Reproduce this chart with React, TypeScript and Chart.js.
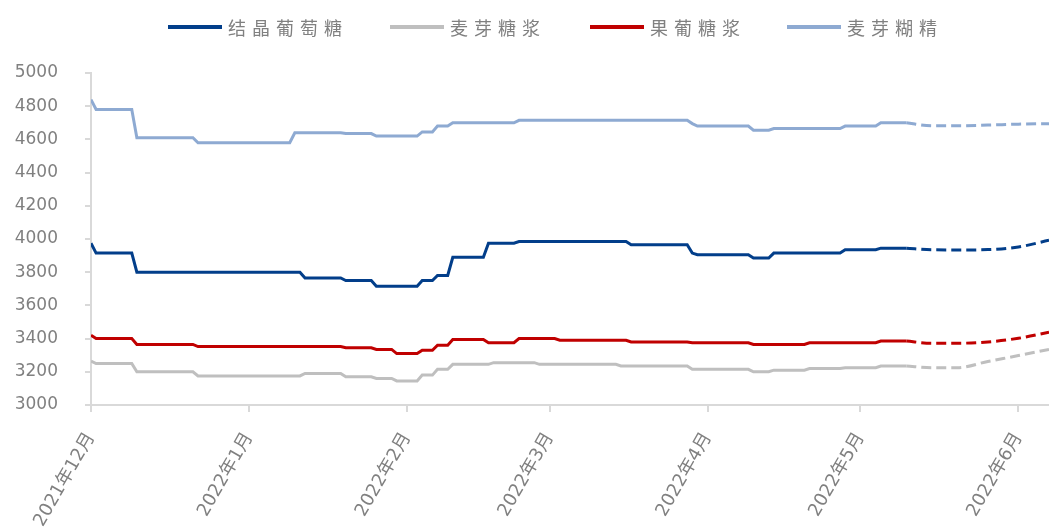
import React, { useEffect, useRef } from "react";
import { Chart, registerables } from "chart.js";

Chart.register(...registerables);

// ---------- data ----------
const ORIGIN_DATE = "2021-12-01";
const AXIS_END_DATE = "2022-06-07";

const monthTickDates = ["2021-12-01", "2022-01-01", "2022-02-01", "2022-03-01", "2022-04-01", "2022-05-01", "2022-06-01"];
const monthTickLabels = ["2021年12月", "2022年1月", "2022年2月", "2022年3月", "2022年4月", "2022年5月", "2022年6月"];

const seriesNames = ["结晶葡萄糖", "麦芽糖浆", "果葡糖浆", "麦芽糊精"];
const seriesColors = ["#023e8a", "#bfbfbf", "#c00000", "#8eaad2"];

// price change dates (value holds from that date until the next change)
const glucoseDates = ["2021-12-01", "2021-12-02", "2021-12-10", "2022-01-12", "2022-01-20", "2022-01-26", "2022-02-04", "2022-02-07", "2022-02-10", "2022-02-17", "2022-02-23", "2022-03-17", "2022-03-29", "2022-03-30", "2022-04-10", "2022-04-14", "2022-04-28", "2022-05-05", "2022-05-10"];
const glucoseValues = [3975, 3915, 3800, 3765, 3750, 3715, 3750, 3780, 3890, 3975, 3985, 3965, 3915, 3905, 3885, 3915, 3935, 3945, 3945];

const maltSyrupDates = ["2021-12-01", "2021-12-02", "2021-12-10", "2021-12-22", "2022-01-12", "2022-01-20", "2022-01-26", "2022-01-30", "2022-02-04", "2022-02-07", "2022-02-10", "2022-02-18", "2022-02-27", "2022-03-15", "2022-03-29", "2022-04-10", "2022-04-14", "2022-04-21", "2022-04-28", "2022-05-05", "2022-05-10"];
const maltSyrupValues = [3265, 3250, 3200, 3175, 3190, 3170, 3160, 3145, 3180, 3215, 3245, 3255, 3245, 3235, 3215, 3200, 3210, 3220, 3225, 3235, 3235];

const hfcsDates = ["2021-12-01", "2021-12-02", "2021-12-10", "2021-12-22", "2022-01-20", "2022-01-26", "2022-01-30", "2022-02-04", "2022-02-07", "2022-02-10", "2022-02-17", "2022-02-23", "2022-03-03", "2022-03-17", "2022-03-29", "2022-04-10", "2022-04-21", "2022-05-05", "2022-05-10"];
const hfcsValues = [3420, 3400, 3365, 3352, 3345, 3335, 3310, 3330, 3360, 3395, 3375, 3400, 3390, 3380, 3375, 3365, 3375, 3385, 3385];

const maltodextrinDates = ["2021-12-01", "2021-12-02", "2021-12-10", "2021-12-22", "2022-01-10", "2022-01-20", "2022-01-26", "2022-02-04", "2022-02-07", "2022-02-10", "2022-02-23", "2022-03-29", "2022-03-30", "2022-04-10", "2022-04-14", "2022-04-28", "2022-05-05", "2022-05-10"];
const maltodextrinValues = [4840, 4780, 4610, 4580, 4640, 4635, 4620, 4645, 4680, 4700, 4715, 4695, 4680, 4655, 4665, 4680, 4700, 4700];

// forecast (dashed)
const forecastDates = ["2022-05-10", "2022-05-15", "2022-05-20", "2022-05-26", "2022-06-01", "2022-06-07"];
const glucoseForecast = [3945, 3935, 3934, 3936, 3952, 3992];
const maltSyrupForecast = [3235, 3225, 3225, 3262, 3298, 3335];
const hfcsForecast = [3385, 3372, 3372, 3380, 3402, 3438];
const maltodextrinForecast = [4700, 4682, 4682, 4686, 4692, 4695];

const Y_MIN = 3000;
const Y_MAX = 5000;
const Y_STEP = 200;

// ---------- helpers ----------
const dayIndex = (d: string) => Math.round((Date.parse(d) - Date.parse(ORIGIN_DATE)) / 86400000);

function stepPoints(dates: string[], values: number[]) {
  const pts: { x: number; y: number }[] = [];
  dates.forEach((d, i) => {
    const x = dayIndex(d);
    if (i > 0) pts.push({ x: x - 1, y: values[i - 1] });
    pts.push({ x, y: values[i] });
  });
  return pts;
}

function plainPoints(dates: string[], values: number[]) {
  return dates.map((d, i) => ({ x: dayIndex(d), y: values[i] }));
}

const actualSeries = [
  stepPoints(glucoseDates, glucoseValues),
  stepPoints(maltSyrupDates, maltSyrupValues),
  stepPoints(hfcsDates, hfcsValues),
  stepPoints(maltodextrinDates, maltodextrinValues),
];
const forecastSeries = [glucoseForecast, maltSyrupForecast, hfcsForecast, maltodextrinForecast].map((v) =>
  plainPoints(forecastDates, v)
);

const TICK_FONT = "'DejaVu Sans', 'Noto Sans CJK SC', sans-serif";
const AXIS_COLOR = "#d9d9d9";
const TEXT_COLOR = "#808080";

export default function App() {
  const canvasRef = useRef<HTMLCanvasElement | null>(null);

  useEffect(() => {
    if (!canvasRef.current) return;
    const monthDays = monthTickDates.map(dayIndex);
    const datasets: any[] = [];
    seriesNames.forEach((name, i) => {
      datasets.push({
        label: name,
        data: actualSeries[i],
        borderColor: seriesColors[i],
        backgroundColor: seriesColors[i],
        borderWidth: 3,
        pointRadius: 0,
        tension: 0,
        fill: false,
      });
      datasets.push({
        label: name + "（预测）",
        data: forecastSeries[i],
        borderColor: seriesColors[i],
        backgroundColor: seriesColors[i],
        borderWidth: 3,
        borderDash: [10, 5],
        borderCapStyle: "butt",
        pointRadius: 0,
        cubicInterpolationMode: "monotone",
        fill: false,
      });
    });

    const chart = new Chart(canvasRef.current, {
      type: "line",
      data: { datasets },
      options: {
        animation: false,
        responsive: false,
        maintainAspectRatio: false,
        devicePixelRatio: 1,
        layout: { padding: { top: 73, left: 0, right: 0, bottom: 0 } },
        plugins: {
          legend: { display: false },
          tooltip: { enabled: false },
        },
        scales: {
          x: {
            type: "linear",
            min: 0,
            max: dayIndex(AXIS_END_DATE),
            afterBuildTicks: (scale: any) => {
              scale.ticks = monthDays.map((v) => ({ value: v }));
            },
            afterFit: (scale: any) => {
              scale.height = 127;
              scale.paddingLeft = 0;
              scale.paddingRight = 0;
            },
            ticks: {
              autoSkip: false,
              minRotation: 60,
              maxRotation: 60,
              padding: 17,
              color: TEXT_COLOR,
              font: { family: TICK_FONT, size: 18 },
              callback: (value: any) => {
                const idx = monthDays.indexOf(Number(value));
                return idx >= 0 ? monthTickLabels[idx] : "";
              },
            },
            grid: {
              drawOnChartArea: false,
              drawTicks: true,
              tickLength: 7,
              color: AXIS_COLOR,
              lineWidth: 2,
            },
            border: { color: AXIS_COLOR, width: 2 },
          },
          y: {
            min: Y_MIN,
            max: Y_MAX,
            afterFit: (scale: any) => {
              scale.width = 91;
            },
            ticks: {
              stepSize: Y_STEP,
              padding: 27,
              color: TEXT_COLOR,
              font: { family: TICK_FONT, size: 17 },
              callback: (value: any) => String(value),
            },
            grid: {
              drawOnChartArea: false,
              drawTicks: true,
              tickLength: 6,
              color: AXIS_COLOR,
              lineWidth: 2,
            },
            border: { color: AXIS_COLOR, width: 2 },
          },
        },
      },
    });
    return () => chart.destroy();
  }, []);

  const legendOffsets = [168, 390, 590, 787];

  return (
    <div style={{ position: "fixed", left: 0, top: 0, width: 1049, height: 532, background: "#ffffff" }}>
      <canvas ref={canvasRef} width={1049} height={532} style={{ display: "block", width: 1049, height: 532 }} />
      {seriesNames.map((name, i) => (
        <div
          key={name}
          style={{
            position: "absolute",
            left: legendOffsets[i],
            top: 16,
            height: 22,
            display: "flex",
            alignItems: "center",
            whiteSpace: "nowrap",
          }}
        >
          <span style={{ display: "inline-block", width: 54, height: 4, background: seriesColors[i], marginRight: 6 }} />
          <span
            style={{
              fontFamily: "'Noto Sans CJK SC', sans-serif",
              fontSize: 18,
              letterSpacing: 6,
              color: TEXT_COLOR,
              lineHeight: "22px",
            }}
          >
            {name}
          </span>
        </div>
      ))}
    </div>
  );
}
